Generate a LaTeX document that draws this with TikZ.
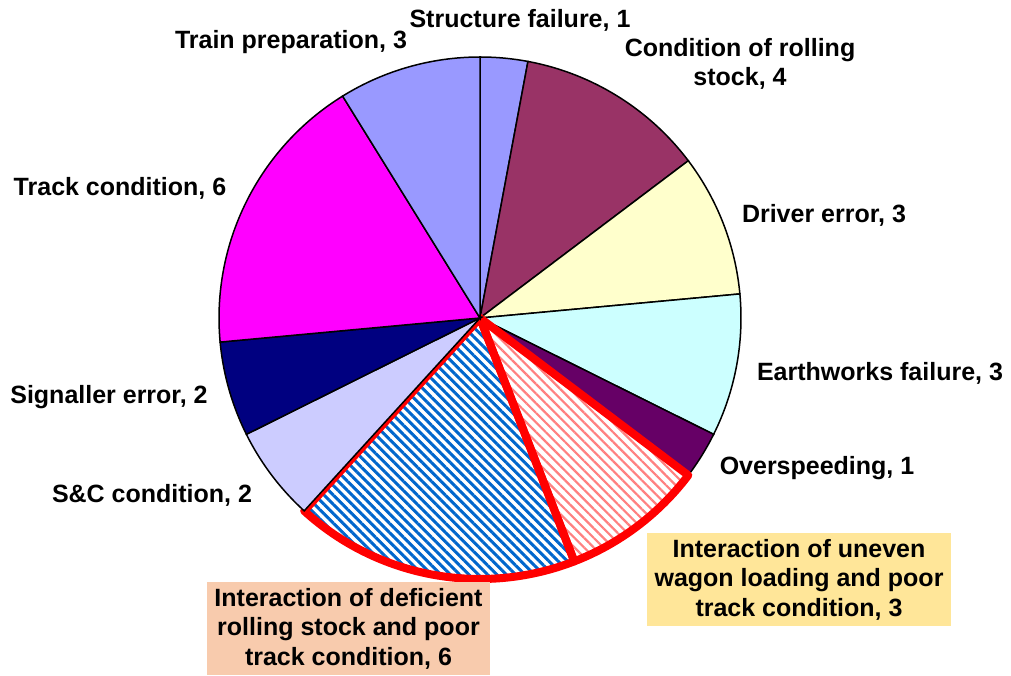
\documentclass[tikz,border=0pt]{standalone}
\usepackage{fontspec}
\setmainfont{Liberation Sans}
\usetikzlibrary{patterns.meta}
\definecolor{trainblue}{HTML}{9999FF}
\definecolor{stockplum}{HTML}{993366}
\definecolor{driveryellow}{HTML}{FFFFCC}
\definecolor{earthcyan}{HTML}{CCFFFF}
\definecolor{speedpurple}{HTML}{660066}
\definecolor{unevenpink}{HTML}{FF8080}
\definecolor{deficientblue}{HTML}{0066CC}
\definecolor{sclilac}{HTML}{CCCCFF}
\definecolor{signalnavy}{HTML}{000080}
\definecolor{trackmagenta}{HTML}{FF00FF}
\definecolor{unevenbox}{HTML}{FFE699}
\definecolor{deficientbox}{HTML}{F8CBAD}
\def\pieslice[#1](#2:#3){\draw[#1] (480,357) -- ++(#2:261) arc (#2:#3:261) -- cycle;}
\tikzset{
  lbl/.style={font=\bfseries\fontsize{12.5}{14.75}\selectfont, inner sep=0pt, align=center},
  callout/.style={lbl, minimum height=46.5pt}
}

\begin{document}
\begin{tikzpicture}[x=0.5pt, y=0.5pt]
			%%%%% START %%%%%
			\useasboundingbox (0,0) rectangle (1011,675);
			
			\pieslice[fill=trainblue, line width=0.75pt](90:79.412)
			\pieslice[fill=stockplum, line width=0.75pt](79.412:37.059)
			\pieslice[fill=driveryellow, line width=0.75pt](37.059:5.294)
			\pieslice[fill=earthcyan, line width=0.75pt](5.294:-26.471)
			\pieslice[fill=speedpurple, line width=0.75pt](-26.471:-37.059)
			
			% the two interaction slices
			\pieslice[draw=none, fill=white, pattern={Lines[angle=-45, distance=3.4pt, line width=1.1pt]}, pattern color=unevenpink](-37.059:-68.824)
			\pieslice[draw=none, fill=white, pattern={Lines[angle=-45, distance=3.3pt, line width=1.5pt]}, pattern color=deficientblue](-68.824:-132.353)
			\pieslice[draw=red, line width=4pt, line join=round](-68.824:-132.353)
			\pieslice[draw=red, line width=4pt, line join=round](-37.059:-68.824)
			
			\pieslice[fill=sclilac, line width=0.75pt](-132.353:-153.529)
			\pieslice[fill=signalnavy, line width=0.75pt](-153.529:-174.706)
			\pieslice[fill=trackmagenta, line width=0.75pt](-174.706:-238.235)
			\pieslice[fill=trainblue, line width=0.75pt](-238.235:-270)
			
			\node[lbl] (structure) at (520,655) {Structure failure, 1};
			\node[lbl] (trainprep) at (291,633) {Train preparation, 3};
			\node[lbl] (stock) at (740,611) {Condition of rolling\\stock, 4};
			\node[lbl] (track) at (120,487) {Track condition, 6};
			\node[lbl] (driver) at (824,460) {Driver error, 3};
			\node[lbl] (earthworks) at (880,302) {Earthworks failure, 3};
			\node[lbl] (signaller) at (109,278) {Signaller error, 2};
			\node[lbl] (overspeed) at (817,207) {Overspeeding, 1};
			\node[lbl] (sandc) at (152,180) {S\&C condition, 2};
			
			\node[callout, fill=unevenbox, minimum width=152pt] (uneven) at (799,95.5) {Interaction of uneven\\wagon loading and poor\\track condition, 3};
			\node[callout, fill=deficientbox, minimum width=141.5pt] (deficient) at (348.5,46.5) {Interaction of deficient\\rolling stock and poor\\track condition, 6};
			%%%%% END %%%%%
\end{tikzpicture}
\end{document}
